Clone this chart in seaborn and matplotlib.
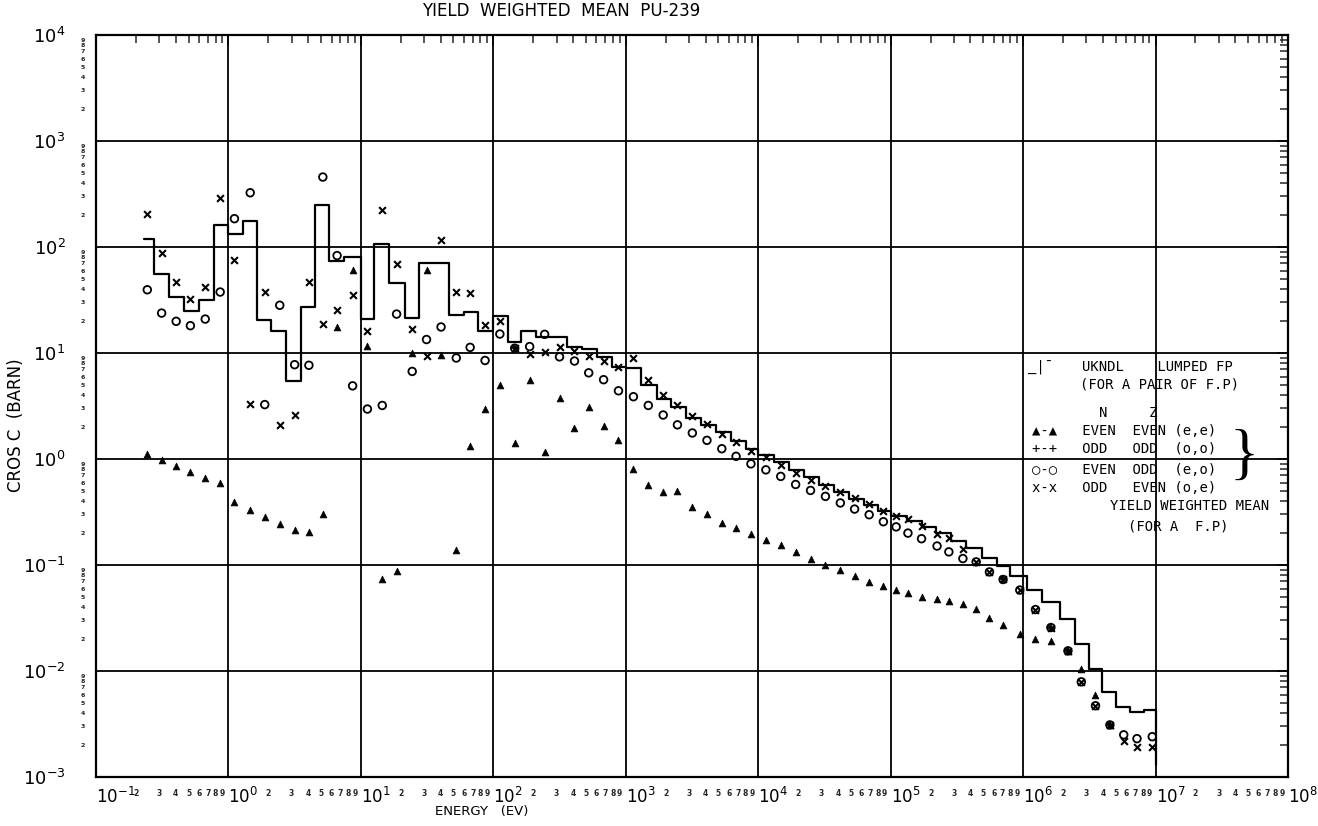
import numpy as np
import pandas as pd
import matplotlib
matplotlib.use("Agg")
import matplotlib.pyplot as plt
import matplotlib.ticker as mticker
import seaborn as sns

nan = np.nan

# UKNDL lumped FP: group boundaries (eV) and cross section in each group (barn)
step_edges = [0.229, 0.274, 0.355, 0.460, 0.596, 0.772, 1.0, 1.28, 1.63, 2.11,
              2.74, 3.55, 4.47, 5.79, 7.50, 10.0, 12.6, 16.3, 21.4, 27.4,
              35.5, 46.0, 59.6, 77.2, 100, 130, 163, 211, 279, 361,
              468, 606, 785, 1000, 1.30e3, 1.71e3, 2.21e3, 2.87e3, 3.72e3, 4.81e3,
              6.24e3, 8.08e3, 1.0e4, 1.32e4, 1.71e4, 2.21e4, 2.87e4, 3.72e4, 4.81e4, 6.24e4,
              8.08e4, 1.0e5, 1.32e5, 1.71e5, 2.21e5, 2.87e5, 3.72e5, 4.90e5, 6.31e5, 7.94e5,
              1.07e6, 1.38e6, 1.91e6, 2.48e6, 3.13e6, 3.95e6, 5.07e6, 6.46e6, 8.13e6, 1.0e7]
step_xs = [120, 56, 34, 25, 31.4, 160, 133, 175, 20.3, 16.3,
           5.5, 27, 248, 73, 80, 21, 107, 46, 21.4, 70,
           71, 23, 24.5, 16.3, 22.5, 12.7, 16.2, 14.1, 14.1, 11.5,
           10.9, 9.1, 7.4, 7.2, 5.0, 3.72, 3.1, 2.46, 2.08, 1.78,
           1.48, 1.25, 1.08, 0.94, 0.79, 0.67, 0.57, 0.485, 0.42, 0.37,
           0.32, 0.29, 0.26, 0.23, 0.20, 0.17, 0.144, 0.117, 0.098, 0.079,
           0.058, 0.045, 0.031, 0.018, 0.0105, 0.0063, 0.0046, 0.0041, 0.0043]
step_tail = 0.0013

# yield weighted mean points (eV, barn)
pt_energy = [0.244, 0.313, 0.403, 0.516, 0.668, 0.866, 1.11, 1.46, 1.88, 2.44,
             3.16, 4.05, 5.16, 6.61, 8.66, 11.2, 14.5, 18.6, 24.4, 31.3,
             40.3, 52.5, 66.8, 86.6, 112, 145, 188, 244, 316, 410,
             525, 680, 881, 1142, 1479, 1916, 2455, 3181, 4101, 5309,
             6802, 8810, 1.142e4, 1.479e4, 1.916e4, 2.483e4, 3.217e4, 4.169e4, 5.34e4, 6.88e4,
             8.81e4, 1.10e5, 1.35e5, 1.71e5, 2.24e5, 2.75e5, 3.51e5, 4.42e5, 5.57e5, 7.06e5,
             9.44e5, 1.24e6, 1.62e6, 2.18e6, 2.75e6, 3.52e6, 4.52e6, 5.75e6, 7.24e6, 9.44e6]
even_even = [1.12, 0.97, 0.853, 0.75, 0.66, 0.594, 0.393, 0.333, 0.284, 0.245,
             0.215, 0.203, 0.305, 17.5, 61, 11.7, 0.0734, 0.0885, 10, 61,
             9.6, 0.14, 1.34, 2.95, 5.0, 1.43, 5.55, 1.17, 3.78, 1.96,
             3.1, 2.04, 1.52, 0.81, 0.565, 0.49, 0.50, 0.35, 0.305, 0.248,
             0.221, 0.194, 0.174, 0.153, 0.133, 0.115, 0.101, 0.0898, 0.0789, 0.0693,
             0.0627, 0.0583, 0.055, 0.0499, 0.048, 0.0457, 0.0431, 0.0387, 0.0318, 0.0272,
             0.0222, 0.0202, 0.0192, 0.0155, 0.0104, 0.0059, 0.0031, nan, nan, nan]
odd_odd = [nan, nan, nan, nan, nan, nan, nan, nan, nan, nan,
           nan, nan, nan, nan, nan, nan, nan, nan, nan, nan,
           nan, nan, nan, nan, nan, 11.1, nan, nan, nan, nan,
           nan, nan, nan, nan, nan, nan, nan, nan, nan, nan,
           nan, nan, nan, nan, nan, nan, nan, nan, nan, nan,
           nan, nan, nan, nan, nan, nan, nan, nan, nan, 0.073,
           nan, nan, 0.0257, 0.0155, nan, nan, 0.0031, nan, nan, nan]
even_odd = [39.5, 23.8, 19.9, 18.1, 20.9, 37.6, 185, 325, 3.26, 28.2,
            7.76, 7.66, 457, 83, 4.9, 2.96, 3.2, 23.3, 6.7, 13.4,
            17.6, 8.97, 11.3, 8.5, 15.1, 11.1, 11.5, 15.0, 9.2, 8.4,
            6.5, 5.6, 4.4, 3.87, 3.2, 2.6, 2.1, 1.76, 1.5, 1.25,
            1.06, 0.90, 0.79, 0.685, 0.575, 0.505, 0.444, 0.385, 0.337, 0.298,
            0.256, 0.229, 0.2, 0.177, 0.151, 0.133, 0.115, 0.107, 0.086, 0.073,
            0.058, 0.038, 0.0257, 0.0155, 0.0079, 0.0047, 0.0031, 0.0025, 0.0023, 0.0024]
odd_even = [205, 88, 47, 32, 41.7, 290, 76, 3.3, 38, 2.11,
            2.58, 47, 18.9, 25.6, 35.5, 16.3, 222, 69.7, 16.8, 9.3,
            117, 37.6, 36.5, 18.5, 20.0, 11.1, 9.8, 10.2, 11.5, 10.5,
            9.4, 8.45, 7.4, 8.9, 5.55, 4.0, 3.2, 2.54, 2.13, 1.74,
            1.45, 1.2, 1.05, 0.88, 0.745, 0.64, 0.556, 0.49, 0.43, 0.38,
            0.323, 0.29, 0.27, 0.235, 0.198, 0.181, 0.143, 0.107, 0.086, 0.073,
            0.058, 0.038, 0.0257, 0.0155, 0.0079, 0.0047, 0.0031, 0.0022, 0.0019, 0.0019]

decades = [-1, 0, 1, 2, 3, 4, 5, 6, 7, 8]
y_decades = [-3, -2, -1, 0, 1, 2, 3, 4]

sns.set_theme(style="white")
plt.rcParams["font.family"] = ["DejaVu Sans"]
plt.rcParams["mathtext.default"] = "regular"

W, H = 1318, 826
fig = plt.figure(figsize=(W / 100, H / 100), dpi=100)
fig.patch.set_facecolor("white")
ax = fig.add_axes([96 / W, 1 - 777 / H, (1288 - 96) / W, (777 - 35) / H])
ax.set_facecolor("white")

# step curve, closed by the drop at the upper end
step_df = pd.DataFrame({
    "E": step_edges + [step_edges[-1]],
    "sig": step_xs + [step_xs[-1], step_tail],
})
sns.lineplot(data=step_df, x="E", y="sig", ax=ax, drawstyle="steps-post",
             estimator=None, sort=False, color="black", lw=1.6)

pts = pd.DataFrame({"E": pt_energy, "ee": even_even, "oo": odd_odd,
                    "eo": even_odd, "oe": odd_even})
sns.scatterplot(data=pts, x="E", y="ee", ax=ax, marker="^", s=24,
                color="black", edgecolor="black", linewidth=0.5, zorder=4)
sns.scatterplot(data=pts, x="E", y="oo", ax=ax, marker="+", s=28,
                color="black", linewidth=1.3, zorder=4)
sns.scatterplot(data=pts, x="E", y="eo", ax=ax, marker="o", s=30,
                facecolors="none", edgecolors="black", linewidth=1.3, zorder=4)
sns.scatterplot(data=pts, x="E", y="oe", ax=ax, marker="x", s=24,
                color="black", linewidth=1.5, zorder=4)

ax.set_xscale("log")
ax.set_yscale("log")
ax.set_xlim(10.0 ** decades[0], 10.0 ** decades[-1])
ax.set_ylim(10.0 ** y_decades[0], 10.0 ** y_decades[-1])
ax.set_xlabel("")
ax.set_ylabel("")

ax.set_xticks([10.0 ** d for d in decades],
              labels=[f"$10^{{{d}}}$" for d in decades], ha="left")
ax.set_yticks([10.0 ** d for d in y_decades],
              labels=[f"$10^{{{d}}}$" for d in y_decades])
ax.xaxis.set_minor_locator(mticker.LogLocator(base=10, subs=np.arange(2, 10), numticks=100))
ax.yaxis.set_minor_locator(mticker.LogLocator(base=10, subs=np.arange(2, 10), numticks=100))


def mantissa_in(lo, hi):
    def fmt(v, pos):
        if v < lo or v > hi:
            return ""
        return str(int(round(v / 10 ** np.floor(np.log10(v) + 1e-9))))
    return mticker.FuncFormatter(fmt)


ax.xaxis.set_minor_formatter(mantissa_in(10.0 ** decades[0], 10.0 ** decades[-1]))
ax.yaxis.set_minor_formatter(mantissa_in(10.0 ** y_decades[0], 10.0 ** y_decades[-1]))

ax.tick_params(axis="x", which="major", direction="inout", length=12, width=1.3,
               labelsize=12, pad=1, top=False, colors="black")
ax.tick_params(axis="x", which="minor", direction="inout", length=8, width=1.1,
               labelsize=5.5, pad=5, top=False)
ax.tick_params(axis="y", which="major", direction="inout", length=12, width=1.3,
               labelsize=13, pad=16, right=False, colors="black")
ax.tick_params(axis="y", which="minor", direction="inout", length=8, width=1.1,
               labelsize=4.5, pad=4, right=False)
for lbl in ax.get_xminorticklabels() + ax.get_yminorticklabels():
    lbl.set_fontweight("bold")

# inward ticks on top and right
top = ax.secondary_xaxis("top")
top.xaxis.set_major_locator(mticker.LogLocator(base=10, numticks=20))
top.xaxis.set_minor_locator(mticker.LogLocator(base=10, subs=np.arange(2, 10), numticks=100))
top.xaxis.set_major_formatter(mticker.NullFormatter())
top.xaxis.set_minor_formatter(mticker.NullFormatter())
top.tick_params(which="major", direction="in", length=8, width=1.2)
top.tick_params(which="minor", direction="in", length=6, width=1.1)
right = ax.secondary_yaxis("right")
right.yaxis.set_major_locator(mticker.LogLocator(base=10, numticks=20))
right.yaxis.set_minor_locator(mticker.LogLocator(base=10, subs=np.arange(2, 10), numticks=100))
right.yaxis.set_major_formatter(mticker.NullFormatter())
right.yaxis.set_minor_formatter(mticker.NullFormatter())
right.tick_params(which="major", direction="in", length=8, width=1.2)
right.tick_params(which="minor", direction="in", length=6, width=1.1)
for sp in list(top.spines.values()) + list(right.spines.values()):
    sp.set_visible(False)

ax.grid(True, which="major", color="black", lw=1.3)
for sp in ax.spines.values():
    sp.set_visible(True)
    sp.set_color("black")
    sp.set_linewidth(1.6)


def fxy(px, py):
    return px / W, 1 - py / H


fig.text(*fxy(561, 11), "YIELD  WEIGHTED  MEAN  PU-239", ha="center", va="center",
         fontsize=12, color="black")
fig.text(*fxy(482, 812), "ENERGY   (EV)", ha="center", va="center",
         fontsize=9.5, color="black")
fig.text(*fxy(16, 425), "CROS C  (BARN)", ha="center", va="center",
         rotation=90, fontsize=12, color="black")

# hand lettered key on the right
mono = ["DejaVu Sans Mono", "DejaVu Sans"]
key_rows = [
    (1028, 367, "_|\u00af"),
    (1082, 367, "UKNDL    LUMPED FP"),
    (1080, 385, "(FOR A PAIR OF F.P)"),
    (1032, 413, "        N     Z"),
    (1032, 431, "\u25b2-\u25b2   EVEN  EVEN (e,e)"),
    (1032, 449, "+-+   ODD   ODD  (o,o)"),
    (1032, 470, "\u25cb-\u25cb   EVEN  ODD  (e,o)"),
    (1032, 488, "x-x   ODD   EVEN (o,e)"),
    (1110, 506, "YIELD WEIGHTED MEAN"),
    (1128, 526, "(FOR A  F.P)"),
]
for px, py, txt in key_rows:
    fig.text(*fxy(px, py), txt, ha="left", va="center", fontsize=10,
             family=mono, color="black")
fig.text(*fxy(1244, 458), "}", ha="center", va="center", fontsize=44,
         family=["Liberation Serif", "DejaVu Serif"], color="black")

fig.savefig("out.png", dpi=100, facecolor="white")
